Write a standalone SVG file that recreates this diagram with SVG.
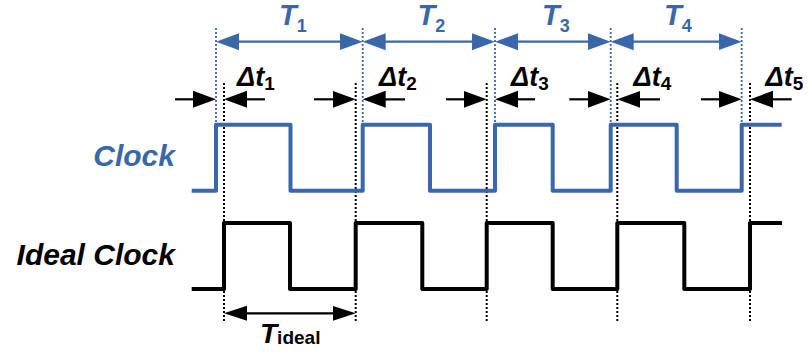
<svg xmlns="http://www.w3.org/2000/svg" width="809" height="363" viewBox="0 0 809 363">
<style>
.blue{stroke:#3a67a9}
.wave{fill:none;stroke-width:4;stroke-linejoin:round}
.dotb{stroke:#3a67a9;stroke-width:1.8;stroke-dasharray:2 2;fill:none}
.dotk{stroke:#000;stroke-width:2;stroke-dasharray:2 2;fill:none}
.arrb{stroke:#3a67a9;stroke-width:2.2;fill:none}
.arrk{stroke:#000;stroke-width:2.2;fill:none}
text{font-family:"Liberation Sans",Arial,sans-serif;font-weight:bold}
.it{font-style:italic}
.sub{font-style:normal}
</style>
<defs>
<marker id="hb" markerUnits="userSpaceOnUse" markerWidth="24" markerHeight="18" refX="13" refY="8.5" orient="auto-start-reverse" viewBox="0 0 24 17">
<path d="M0,0 L23,8.5 L0,17 z" fill="#3a67a9"/>
</marker>
<marker id="hk" markerUnits="userSpaceOnUse" markerWidth="24" markerHeight="18" refX="13" refY="8.5" orient="auto-start-reverse" viewBox="0 0 24 17">
<path d="M0,0 L23,8.5 L0,17 z" fill="#000"/>
</marker>
<marker id="hi" markerUnits="userSpaceOnUse" markerWidth="24" markerHeight="16" refX="13" refY="7.5" orient="auto-start-reverse" viewBox="0 0 24 15">
<path d="M0,0 L23,7.5 L0,15 z" fill="#000"/>
</marker>
</defs>

<g id="guides">
<line class="dotb" x1="216" y1="28" x2="216" y2="123"/>
<line class="dotb" x1="362.7" y1="28" x2="362.7" y2="123"/>
<line class="dotb" x1="495" y1="28" x2="495" y2="123"/>
<line class="dotb" x1="610.7" y1="28" x2="610.7" y2="123"/>
<line class="dotb" x1="741.7" y1="28" x2="741.7" y2="123"/>
<line class="dotk" x1="224" y1="83" x2="224" y2="322"/>
<line class="dotk" x1="355.7" y1="83" x2="355.7" y2="322"/>
<line class="dotk" x1="486.7" y1="83" x2="486.7" y2="322"/>
<line class="dotk" x1="617.3" y1="83" x2="617.3" y2="322"/>
<line class="dotk" x1="750" y1="83" x2="750" y2="322"/>
</g>

<g id="clock">
<path class="wave blue" d="M191.7,190.7 H216 V124.7 H290.5 V190.7 H362.7 V124.7 H430 V190.7 H495 V124.7 H552.7 V190.7 H610.7 V124.7 H676.7 V190.7 H741.7 V124.7 H781.7"/>
<text class="it" x="175" y="165.7" font-size="30" fill="#3a67a9" text-anchor="end">Clock</text>
</g>

<g id="ideal-clock">
<path class="wave" stroke="#000" d="M191.7,289 H224 V223 H290 V289 H355.7 V223 H422.3 V289 H486.7 V223 H552.7 V289 H617.3 V223 H684.3 V289 H750 V223 H782"/>
<text class="it" x="175" y="265" font-size="30" fill="#000" text-anchor="end">Ideal Clock</text>
</g>

<g id="connectors">
<line class="arrb" x1="226" y1="41.7" x2="352.7" y2="41.7" marker-start="url(#hb)" marker-end="url(#hb)"/>
<line class="arrb" x1="372.7" y1="41.7" x2="485" y2="41.7" marker-start="url(#hb)" marker-end="url(#hb)"/>
<line class="arrb" x1="505" y1="41.7" x2="600.7" y2="41.7" marker-start="url(#hb)" marker-end="url(#hb)"/>
<line class="arrb" x1="620.7" y1="41.7" x2="731.7" y2="41.7" marker-start="url(#hb)" marker-end="url(#hb)"/>

<line class="arrk" x1="175" y1="99.3" x2="206" y2="99.3" marker-end="url(#hk)"/>
<line class="arrk" x1="265" y1="99.3" x2="234" y2="99.3" marker-end="url(#hk)"/>
<line class="arrk" x1="314" y1="99.3" x2="345.7" y2="99.3" marker-end="url(#hk)"/>
<line class="arrk" x1="405" y1="99.3" x2="372.7" y2="99.3" marker-end="url(#hk)"/>
<line class="arrk" x1="446" y1="99.3" x2="476.7" y2="99.3" marker-end="url(#hk)"/>
<line class="arrk" x1="535" y1="99.3" x2="505" y2="99.3" marker-end="url(#hk)"/>
<line class="arrk" x1="569.3" y1="99.3" x2="600.7" y2="99.3" marker-end="url(#hk)"/>
<line class="arrk" x1="660" y1="99.3" x2="627.3" y2="99.3" marker-end="url(#hk)"/>
<line class="arrk" x1="701" y1="99.3" x2="731.7" y2="99.3" marker-end="url(#hk)"/>
<line class="arrk" x1="791.7" y1="99.3" x2="760" y2="99.3" marker-end="url(#hk)"/>

<line class="arrk" x1="234" y1="313.3" x2="345.7" y2="313.3" marker-start="url(#hi)" marker-end="url(#hi)"/>
</g>

<g id="labels">
<text class="it" x="279" y="25" font-size="29" fill="#3a67a9">T<tspan class="sub" font-size="18" dy="7">1</tspan></text>
<text class="it" x="417.5" y="25" font-size="29" fill="#3a67a9">T<tspan class="sub" font-size="18" dy="7">2</tspan></text>
<text class="it" x="542" y="25" font-size="29" fill="#3a67a9">T<tspan class="sub" font-size="18" dy="7">3</tspan></text>
<text class="it" x="664" y="25" font-size="29" fill="#3a67a9">T<tspan class="sub" font-size="18" dy="7">4</tspan></text>

<text class="it" x="237" y="86" font-size="27">Δt<tspan class="sub" font-size="19" dy="4">1</tspan></text>
<text class="it" x="379" y="86" font-size="27">Δt<tspan class="sub" font-size="19" dy="4">2</tspan></text>
<text class="it" x="511" y="86" font-size="27">Δt<tspan class="sub" font-size="19" dy="4">3</tspan></text>
<text class="it" x="633.5" y="86" font-size="27">Δt<tspan class="sub" font-size="19" dy="4">4</tspan></text>
<text class="it" x="765.5" y="86" font-size="27">Δt<tspan class="sub" font-size="19" dy="4">5</tspan></text>

<text class="it" x="260" y="343.3" font-size="28">T<tspan class="sub" font-size="19" dy="1">ideal</tspan></text>
</g>
</svg>
